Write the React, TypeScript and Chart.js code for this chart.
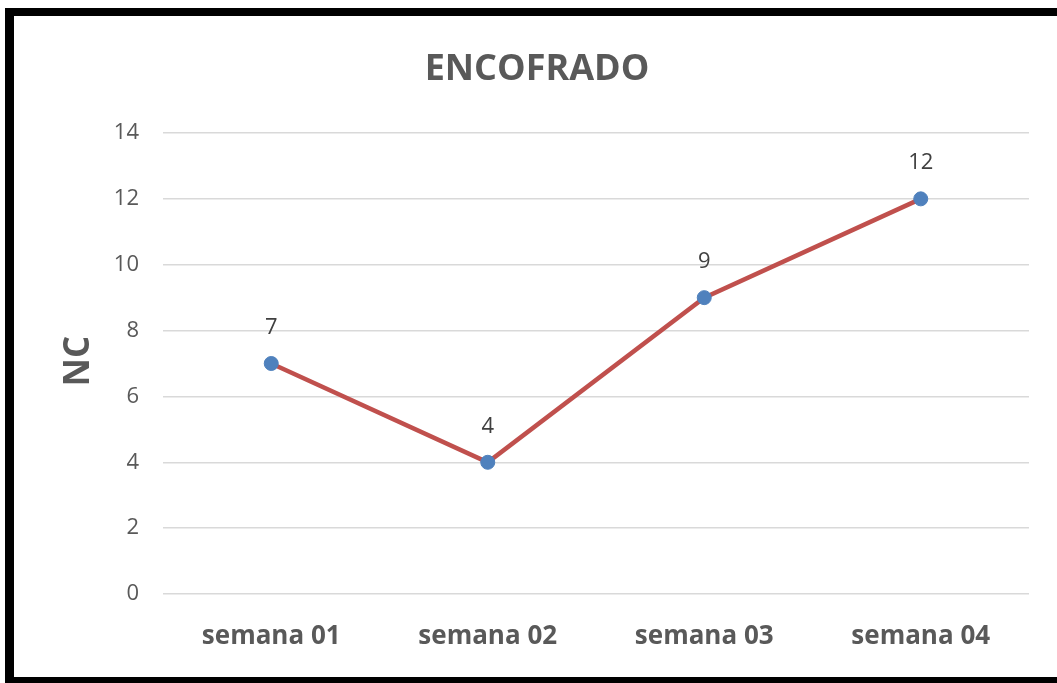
import React, { useEffect, useRef } from "react";
import { Chart, registerables } from "chart.js";

Chart.register(...registerables);

const weeks = ["semana 01", "semana 02", "semana 03", "semana 04"];
const ncValues = [7, 4, 9, 12];
const yTicks = [0, 2, 4, 6, 8, 10, 12, 14];
const chartTitle = "ENCOFRADO";
const yTitle = "NC";

const FONT = "'Open Sans', 'Liberation Sans', sans-serif";
const TEXT = "#595959";

// Frame, heading, rotated axis title and point value labels
const decorations = {
  id: "decorations",
  beforeDraw(chart: any) {
    const { ctx, width, height } = chart;
    ctx.save();
    ctx.fillStyle = "#ffffff";
    ctx.fillRect(0, 0, width, height);
    ctx.restore();
  },
  afterDraw(chart: any) {
    const { ctx, width, height } = chart;
    ctx.save();
    // black frame (left, top, bottom)
    ctx.fillStyle = "#000000";
    ctx.fillRect(5, 8, 9, height - 8);
    ctx.fillRect(5, 8, width - 5, 8);
    ctx.fillRect(5, 677, width - 5, height - 677);

    // heading
    ctx.fillStyle = TEXT;
    ctx.textAlign = "center";
    ctx.textBaseline = "middle";
    ctx.font = `bold 36px ${FONT}`;
    ctx.fillText(chartTitle, 537, 70);

    // vertical axis title
    ctx.save();
    ctx.translate(79, 361);
    ctx.rotate(-Math.PI / 2);
    ctx.font = `bold 35px ${FONT}`;
    ctx.fillText(yTitle, 0, 0);
    ctx.restore();

    // value labels above points
    const meta = chart.getDatasetMeta(0);
    ctx.font = `22px ${FONT}`;
    ctx.fillStyle = "#404040";
    meta.data.forEach((pt: any, i: number) => {
      ctx.fillText(String(ncValues[i]), pt.x, pt.y - 36);
    });
    ctx.restore();
  },
};

export default function App() {
  const canvasRef = useRef<HTMLCanvasElement | null>(null);

  useEffect(() => {
    document.body.style.margin = "0";
    const canvas = canvasRef.current;
    if (!canvas) return;
    const chart = new Chart(canvas, {
      type: "line",
      data: {
        labels: weeks,
        datasets: [
          {
            data: ncValues,
            borderColor: "#C0504D",
            borderWidth: 4.5,
            pointBackgroundColor: "#4F81BD",
            pointBorderColor: "#4F81BD",
            pointRadius: 7,
            pointBorderWidth: 1,
            tension: 0,
          },
        ],
      },
      options: {
        responsive: false,
        animation: false,
        devicePixelRatio: 1,
        layout: { padding: { top: 133, right: 28, bottom: 0, left: 0 } },
        plugins: {
          legend: { display: false },
          title: { display: false },
          tooltip: { enabled: false },
        },
        scales: {
          x: {
            offset: true,
            grid: { display: false, drawTicks: false },
            border: { display: false },
            ticks: {
              color: TEXT,
              padding: 27,
              font: { family: FONT, size: 26, weight: "bold" },
            },
            afterFit(scale: any) {
              scale.height = 89;
            },
          },
          y: {
            min: 0,
            max: 14,
            afterBuildTicks(scale: any) {
              scale.ticks = yTicks.map((v) => ({ value: v }));
            },
            grid: { color: "#d9d9d9", lineWidth: 1.5, drawTicks: false },
            border: { display: false },
            ticks: {
              color: TEXT,
              padding: 24,
              font: { family: FONT, size: 22 },
            },
            afterFit(scale: any) {
              scale.width = 163;
            },
          },
        },
      },
      plugins: [decorations],
    });
    return () => chart.destroy();
  }, []);

  return (
    <div style={{ width: 1057, height: 683 }}>
      <canvas ref={canvasRef} width={1057} height={683} />
    </div>
  );
}
